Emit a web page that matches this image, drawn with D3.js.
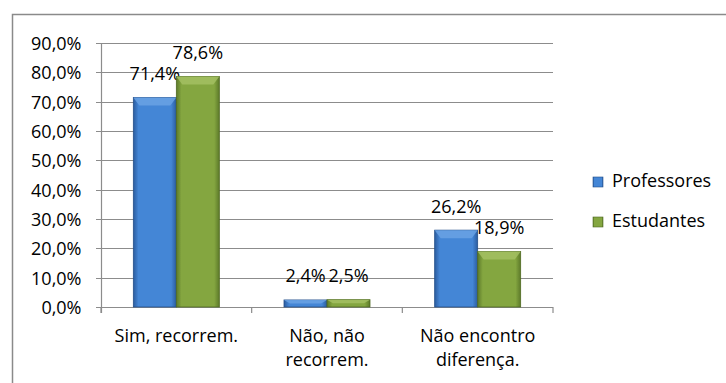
<!DOCTYPE html>
<html>
<head>
<meta charset="utf-8">
<script src="https://cdn.jsdelivr.net/npm/d3@7"></script>
<style>
html,body{margin:0;padding:0;background:#fff;}
svg{display:block;}
text{font-family:"Open Sans",sans-serif;fill:#000;}
</style>
</head>
<body>
<svg id="chart" width="726" height="383"></svg>
<script>
const categories = [["Sim, recorrem."], ["Não, não", "recorrem."], ["Não encontro", "diferença."]];
const seriesNames = ["Professores", "Estudantes"];
const professores = [71.4, 2.4, 26.2];
const estudantes = [78.6, 2.5, 18.9];
const yTicks = [0, 10, 20, 30, 40, 50, 60, 70, 80, 90];

const svg = d3.select("#chart");
const defs = svg.append("defs");
const colors = [
  {id:"gBlue", edge:"#2b5c9f", mid:"#4486d6", top:"#6aa2e4", dark:"#244f8a"},
  {id:"gGreen", edge:"#5d7a2a", mid:"#84a640", top:"#a3c063", dark:"#4f6a22"}
];
colors.forEach(c => {
  const g = defs.append("linearGradient").attr("id", c.id).attr("x1", "0").attr("x2", "1").attr("y1", "0").attr("y2", "0");
  g.append("stop").attr("offset", "0").attr("stop-color", c.edge);
  g.append("stop").attr("offset", "0.12").attr("stop-color", c.mid);
  g.append("stop").attr("offset", "0.88").attr("stop-color", c.mid);
  g.append("stop").attr("offset", "1").attr("stop-color", c.edge);
});

// outer border (top and left visible)
svg.append("path").attr("d", "M12.5,383 V14.5 H726").attr("fill", "none").attr("stroke", "#8a8a8a").attr("stroke-width", 1.5);

const x0 = d3.scaleBand().domain(d3.range(categories.length)).range([101, 553]).paddingInner(0).paddingOuter(0);
const y = d3.scaleLinear().domain([0, 90]).range([307, 43]);
const barW = 43;
const x1 = d3.scaleBand().domain([0, 1]).range([0, barW * 2]);

const fmt = v => d3.format(".1f")(v).replace(".", ",") + "%";

// gridlines
svg.append("g").selectAll("line").data(yTicks).join("line")
  .attr("x1", 96).attr("x2", 553)
  .attr("y1", d => Math.round(y(d)) + 0.5).attr("y2", d => Math.round(y(d)) + 0.5)
  .attr("stroke", "#8c8c8c").attr("stroke-width", 1.2);

// y axis
const yAxis = svg.append("g").attr("transform", "translate(101.5,0)")
  .call(d3.axisLeft(y).tickValues(yTicks).tickSize(0).tickPadding(20).tickFormat(fmt));
yAxis.select(".domain").remove();
yAxis.selectAll("text").style("font-size", "18px").attr("fill", "#000").attr("dy", "0.36em");

svg.append("line").attr("x1", 101.5).attr("x2", 101.5).attr("y1", y(90)).attr("y2", 313)
  .attr("stroke", "#8c8c8c").attr("stroke-width", 1.2);

// x axis ticks
const bounds = d3.range(categories.length + 1).map(i => i < categories.length ? x0(i) : x0(i - 1) + x0.bandwidth());
svg.append("g").selectAll("line").data(bounds).join("line")
  .attr("x1", d => d).attr("x2", d => d).attr("y1", 307).attr("y2", 313)
  .attr("stroke", "#8c8c8c").attr("stroke-width", 1.2);

// bars
const series = [professores, estudantes];
series.forEach((vals, s) => {
  const c = colors[s];
  const g = svg.append("g");
  vals.forEach((v, i) => {
    const cx = x0(i) + x0.bandwidth() / 2 - barW;
    const bx = cx + x1(s);
    const by = y(v);
    const bh = y(0) - by;
    g.append("rect").attr("x", bx).attr("y", by).attr("width", barW).attr("height", bh)
      .attr("fill", `url(#${c.id})`).attr("stroke", c.dark).attr("stroke-width", 0.8);
    const bev = Math.min(8, bh / 2);
    g.append("path")
      .attr("d", `M${bx},${by} H${bx + barW} L${bx + barW - 6},${by + bev} H${bx + 6} Z`)
      .attr("fill", c.top).attr("opacity", 0.85);
    svg.append("text").attr("x", bx + barW / 2).attr("y", by - 17.5)
      .attr("text-anchor", "middle").style("font-size", "18px").text(fmt(v));
  });
});

// category labels
categories.forEach((lines, i) => {
  const t = svg.append("text").attr("text-anchor", "middle").style("font-size", "18px");
  lines.forEach((ln, k) => {
    t.append("tspan").attr("x", x0(i) + x0.bandwidth() / 2).attr("y", 342 + k * 24).text(ln);
  });
});

// legend
seriesNames.forEach((name, s) => {
  const c = colors[s];
  const ly = 177 + s * 40;
  svg.append("rect").attr("x", 593).attr("y", ly).attr("width", 10).attr("height", 10)
    .attr("fill", `url(#${c.id})`).attr("stroke", c.dark).attr("stroke-width", 0.6);
  svg.append("text").attr("x", 612).attr("y", ly + 10).style("font-size", "18px").text(name);
});
</script>
</body>
</html>
